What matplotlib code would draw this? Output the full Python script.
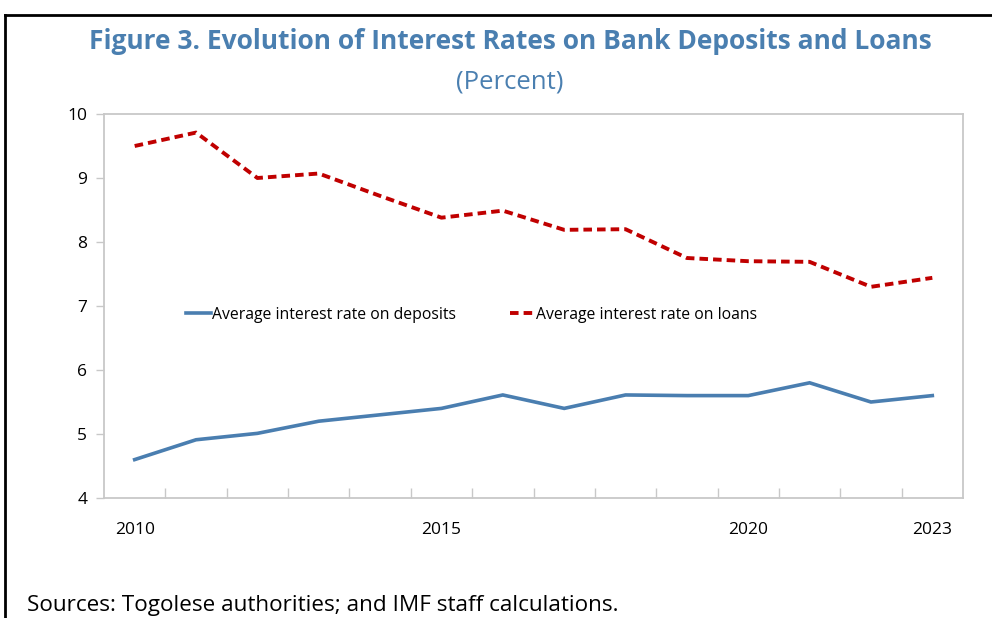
import numpy as np
import matplotlib.pyplot as plt
from matplotlib.lines import Line2D

plt.rcParams['font.family'] = ['Open Sans', 'DejaVu Sans']

years = np.arange(2010, 2024)
deposits = [4.60, 4.91, 5.01, 5.20, 5.30, 5.40, 5.61, 5.40, 5.61, 5.60, 5.60, 5.80, 5.50, 5.60]
loans = [9.50, 9.71, 9.00, 9.07, 8.72, 8.38, 8.49, 8.19, 8.20, 7.75, 7.70, 7.69, 7.30, 7.44]
year_labels = [2010, 2015, 2020, 2023]

blue = '#4a7eb0'
red = '#c00000'
title_blue = '#4a7fb0'
grey = '#c8c8c8'

fig = plt.figure(figsize=(9.92, 6.18), dpi=100)
ax = fig.add_axes([104/992, 1 - 498/618, (963 - 104)/992, (498 - 114)/618])

ax.plot(years, deposits, color=blue, lw=2.6, solid_joinstyle='miter',
        label='Average interest rate on deposits')
ax.plot(years, loans, color=red, lw=2.8, ls=(0, (2.2, 1.3)),
        label='Average interest rate on loans')

ax.set_xlim(2009.5, 2023.5)
ax.set_ylim(4, 10)
ax.set_yticks(range(4, 11))
ax.set_xticks(year_labels)
ax.set_xticks(np.arange(2010.5, 2023, 1), minor=True)
ax.tick_params(axis='x', which='major', length=0, pad=17, labelsize=12.5)
ax.tick_params(axis='x', which='minor', direction='in', length=7, width=1, color=grey)
ax.tick_params(axis='y', direction='out', length=6, width=1, color=grey, labelsize=12.5, pad=6)
for s in ax.spines.values():
    s.set_color(grey)
    s.set_linewidth(1.3)

ax.legend(loc='center left', bbox_to_anchor=(0.095, 0.477), ncol=2, frameon=False,
          fontsize=11.3, handlelength=1.6, handletextpad=0.1, columnspacing=3.4,
          borderaxespad=0, borderpad=0)

fig.text(0.514, 0.933, 'Figure 3. Evolution of Interest Rates on Bank Deposits and Loans',
         ha='center', va='center', fontsize=19, fontweight='bold', color=title_blue)
fig.text(0.514, 0.868, '(Percent)', ha='center', va='center', fontsize=18.5, color=title_blue)
fig.text(27/992, 1 - 606/618, 'Sources: Togolese authorities; and IMF staff calculations.',
         ha='left', va='center', fontsize=16.2, color='black')

# outer frame, top and left edges
fig.add_artist(Line2D([5/992, 5/992], [0, 1 - 15/618], color='black', lw=2, transform=fig.transFigure))
fig.add_artist(Line2D([5/992, 1], [1 - 15/618, 1 - 15/618], color='black', lw=2, transform=fig.transFigure))

fig.savefig('out.png', dpi=100)
